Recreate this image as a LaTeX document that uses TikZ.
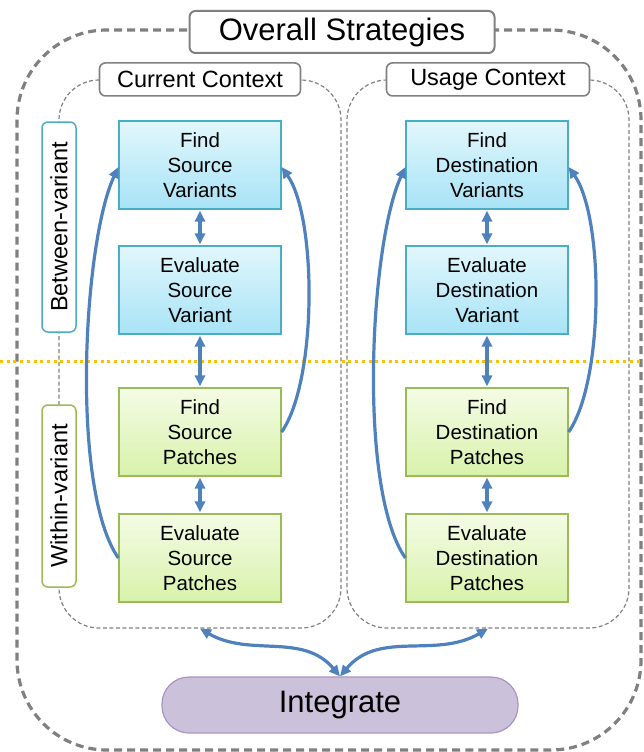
\documentclass[tikz,border=0pt]{standalone}
\usepackage{fontspec}
\setmainfont{Liberation Sans}
\usepackage{tikz}
\usetikzlibrary{arrows.meta}

\definecolor{framegray}{HTML}{808080}
\definecolor{flowblue}{HTML}{4F81BD}
\definecolor{varedge}{HTML}{4BACC6}
\definecolor{vartop}{HTML}{E1F7FC}
\definecolor{varbottom}{HTML}{A8E3F6}
\definecolor{patchedge}{HTML}{9BBB59}
\definecolor{patchtop}{HTML}{F4FBE6}
\definecolor{patchbottom}{HTML}{D8F2AA}
\definecolor{mergefill}{HTML}{CCC1DA}
\definecolor{mergeedge}{HTML}{A894C2}
\definecolor{splitline}{HTML}{FFC000}

\begin{document}
\begin{tikzpicture}[x=1pt,y=1pt,
		overall/.style={draw=framegray,line width=3.2pt,dash pattern=on 8pt off 5pt,rounded corners=90pt,minimum width=624pt,minimum height=720pt},
		ctxframe/.style={draw=framegray,line width=1.2pt,dash pattern=on 4pt off 2.5pt,rounded corners=40pt,minimum width=282pt,minimum height=548pt},
		tag/.style={draw=framegray,line width=1.6pt,fill=white,rounded corners=6pt,minimum height=33pt,font=\fontsize{23.5}{28}\selectfont},
		sidetag/.style={fill=white,line width=1.5pt,rounded corners=6pt,rotate=90,minimum height=34pt,font=\fontsize{23.5}{28}\selectfont},
		task/.style={line width=1.2pt,minimum width=162pt,minimum height=88pt,inner sep=0pt,align=center,font=\fontsize{20.5}{25}\selectfont},
		varbox/.style={task,draw=varedge,top color=vartop,bottom color=varbottom},
		patchbox/.style={task,draw=patchedge,top color=patchtop,bottom color=patchbottom},
		flow/.style={draw=flowblue,line width=3.2pt},
		oneway/.style={-{Triangle[length=11pt,width=10pt]}},
		twoway/.style={{Triangle[length=11pt,width=10pt]}-{Triangle[length=11pt,width=10pt]}}]
	
	\useasboundingbox (0,0) rectangle (643,-752);
	
	\node[overall] (all) at (329,-390) {};
	\node[tag,line width=2pt,minimum width=305pt,minimum height=42pt,font=\fontsize{31}{36}\selectfont] (title) at (342,-32) {Overall Strategies};
	
	\node[ctxframe] (curctx) at (200,-354) {};
	\node[ctxframe] (usectx) at (488,-354) {};
	\node[tag,minimum width=201pt] (curlabel) at (curctx.north) {Current Context};
	\node[tag,minimum width=203pt] (uselabel) at (usectx.north) {Usage Context};
	
	\coordinate (splitL) at (0,-361);
	\coordinate (splitR) at (643,-361);
	\draw[splitline,line width=3pt,dash pattern=on 3pt off 3.7pt] (splitL) -- (splitR);
	
	\node[sidetag,draw=varedge,minimum width=210pt] (between) at (59,-227) {Between-variant};
	\node[sidetag,draw=patchedge,minimum width=182pt] (within) at (59,-496) {Within-variant};
	
	\node[varbox] (FSV) at (200,-165) {Find\\Source\\Variants};
	\node[varbox] (ESV) at (200,-290) {Evaluate\\Source\\Variant};
	\node[patchbox] (FSP) at (200,-432) {Find\\Source\\Patches};
	\node[patchbox] (ESP) at (200,-558) {Evaluate\\Source\\Patches};
	
	\node[varbox] (FDV) at (487,-165) {Find\\Destination\\Variants};
	\node[varbox] (EDV) at (487,-290) {Evaluate\\Destination\\Variant};
	\node[patchbox] (FDP) at (487,-432) {Find\\Destination\\Patches};
	\node[patchbox] (EDP) at (487,-558) {Evaluate\\Destination\\Patches};
	
	\node[draw=mergeedge,fill=mergefill,line width=1.2pt,rounded corners=27pt,minimum width=356pt,minimum height=56pt,font=\fontsize{31}{36}\selectfont] (merge) at (340,-705) {Integrate};
	
	\draw[flow,twoway,shorten <=1pt,shorten >=1pt] (FSV) -- (ESV);
	\draw[flow,twoway,shorten <=1pt,shorten >=1pt] (ESV) -- (FSP);
	\draw[flow,twoway,shorten <=1pt,shorten >=1pt] (FSP) -- (ESP);
	\draw[flow,twoway,shorten <=1pt,shorten >=1pt] (FDV) -- (EDV);
	\draw[flow,twoway,shorten <=1pt,shorten >=1pt] (EDV) -- (FDP);
	\draw[flow,twoway,shorten <=1pt,shorten >=1pt] (FDP) -- (EDP);
	
	\draw[flow,oneway] (ESP.west) to[out=125,in=245,looseness=0.55] ([yshift=-2pt]FSV.west);
	\draw[flow,oneway] (FSP.east) to[out=55,in=-55,looseness=0.6] ([yshift=-2pt]FSV.east);
	\draw[flow,oneway] (EDP.west) to[out=125,in=245,looseness=0.55] ([yshift=-2pt]FDV.west);
	\draw[flow,oneway] (FDP.east) to[out=55,in=-55,looseness=0.6] ([yshift=-2pt]FDV.east);
	
	\draw[flow,twoway] (curctx.south) to[out=-30,in=130] (merge.north);
	\draw[flow,twoway] (usectx.south) to[out=210,in=50] (merge.north);
	
\end{tikzpicture}
\end{document}
